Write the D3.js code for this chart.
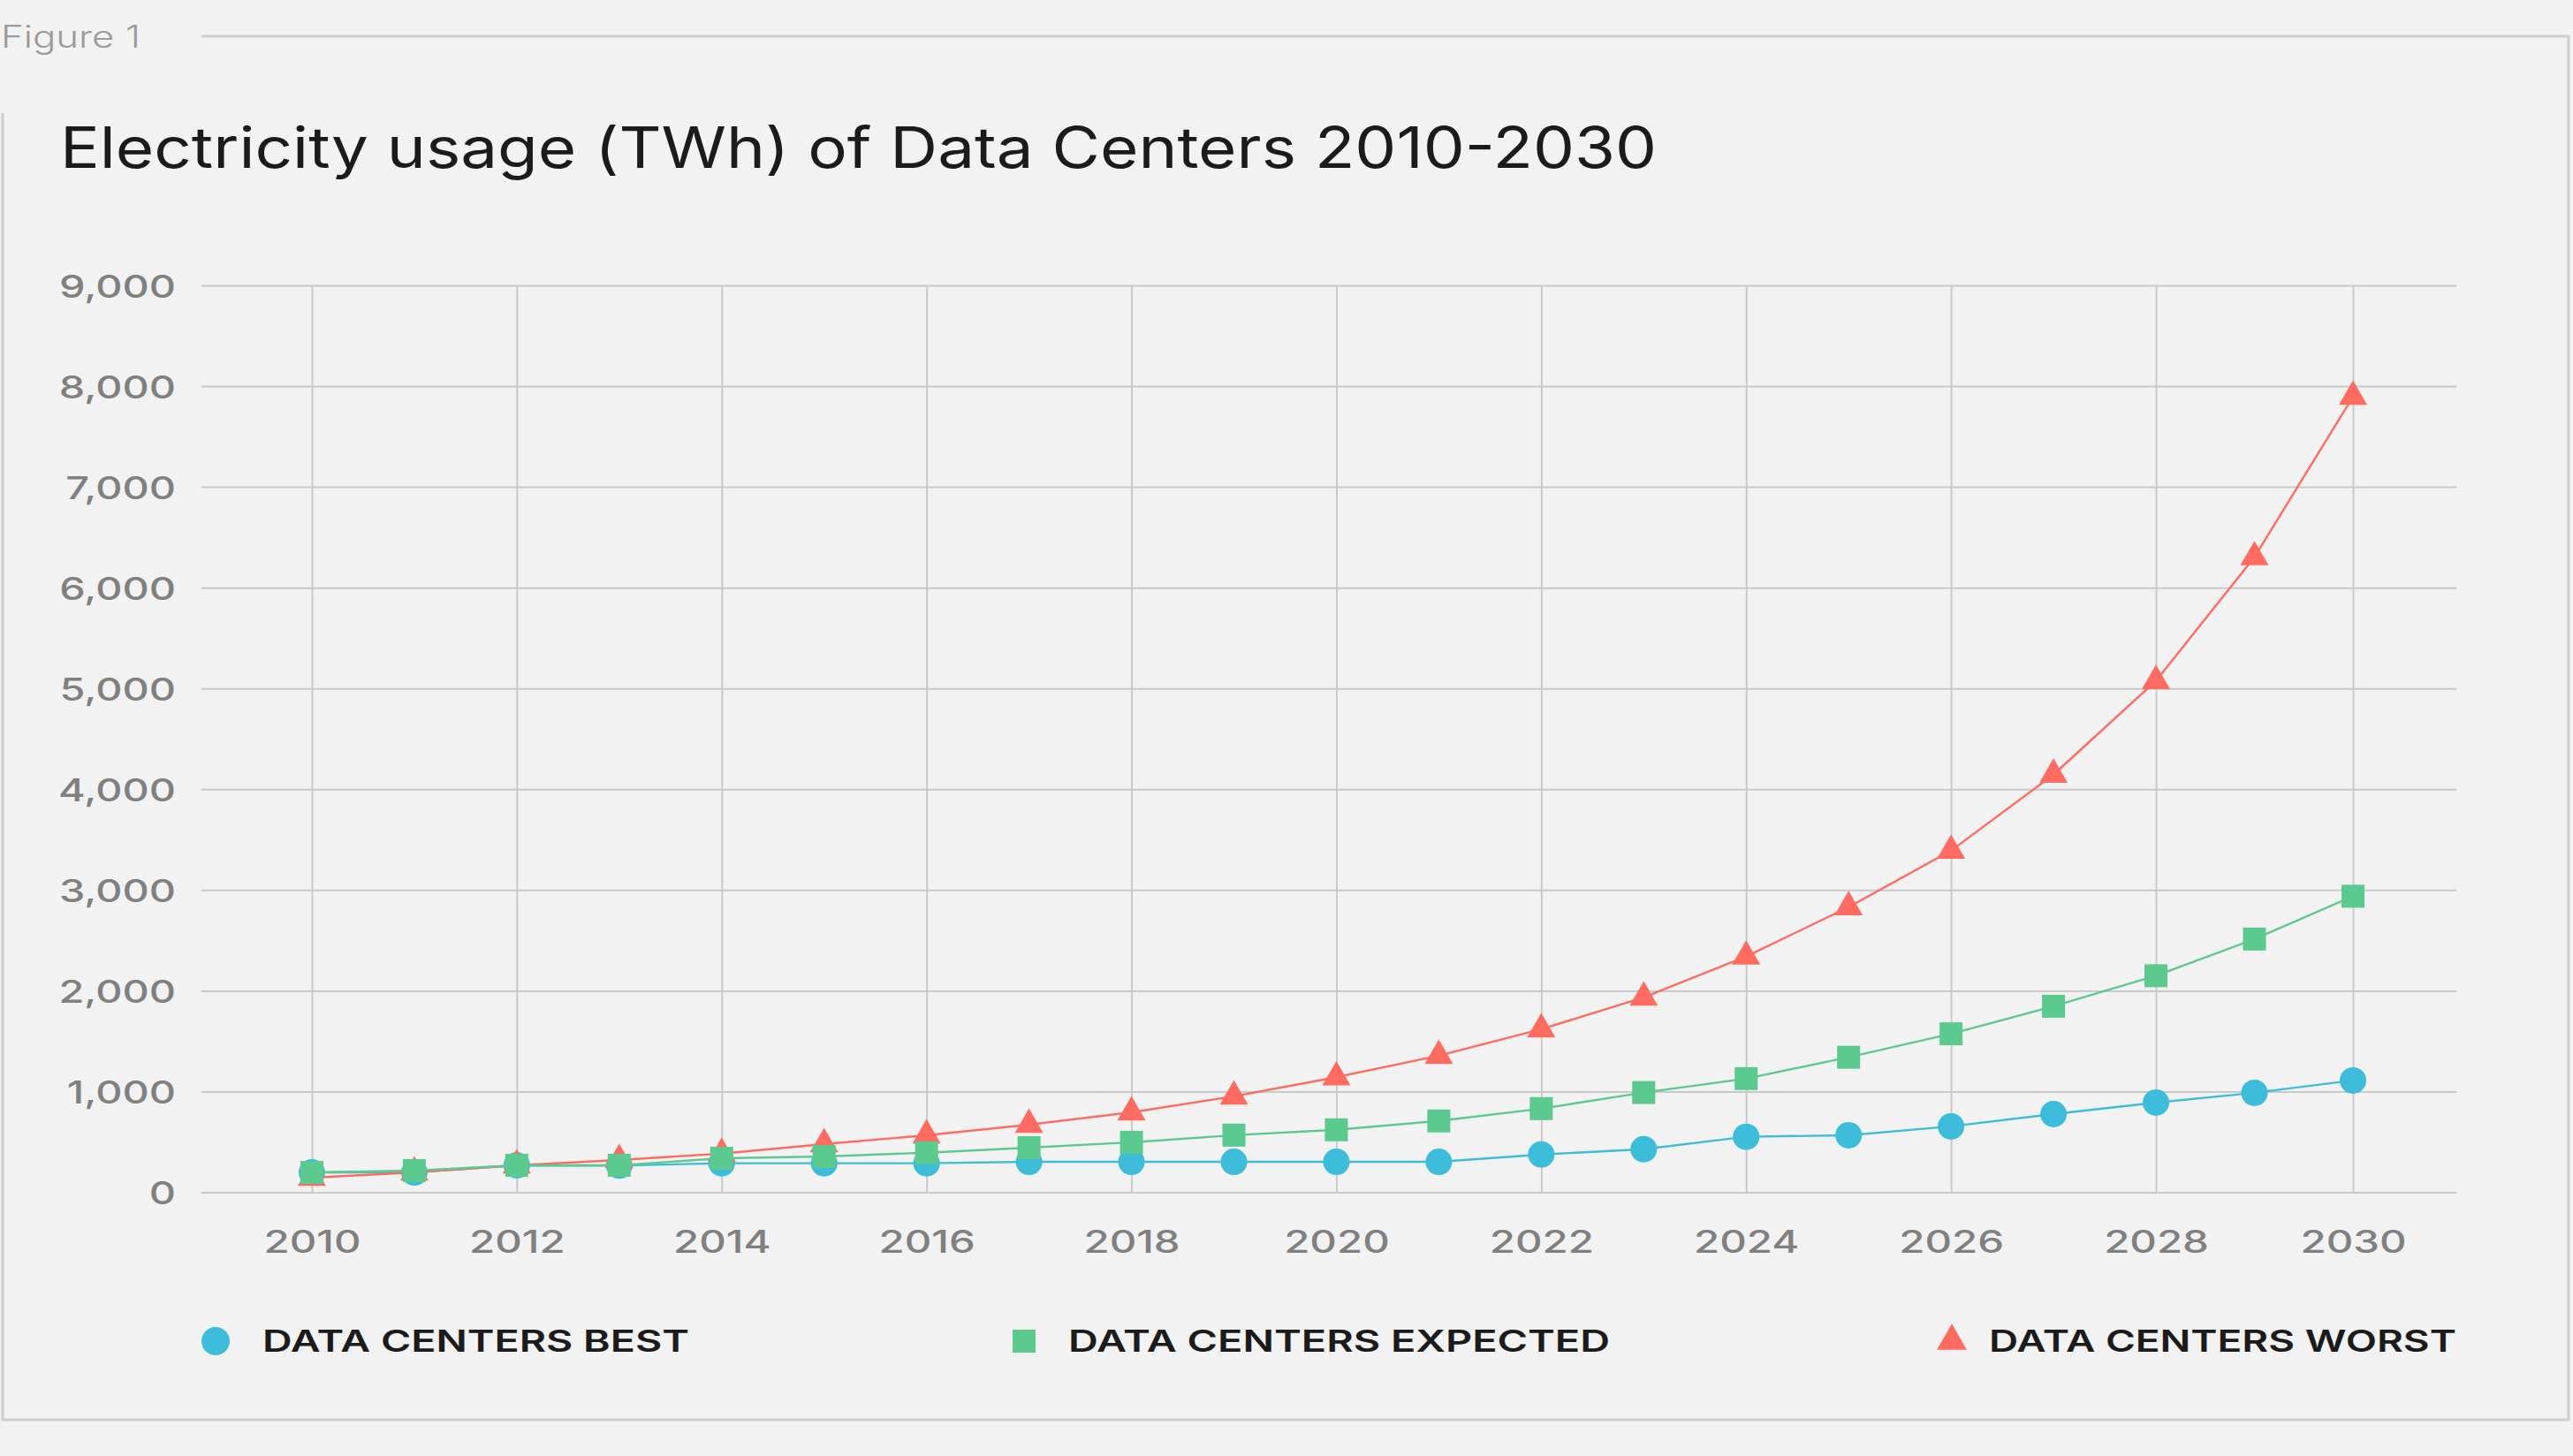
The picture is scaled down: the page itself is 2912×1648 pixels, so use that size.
<!DOCTYPE html>
<html>
<head>
<meta charset="utf-8">
<script src="https://cdn.jsdelivr.net/npm/d3@7"></script>
<style>
  html, body { margin: 0; padding: 0; background: #f2f2f2; }
  svg { display: block; }
</style>
</head>
<body>
<svg id="chart" width="2912" height="1648"></svg>
<script>
// ---- data ----
const years = [2010, 2011, 2012, 2013, 2014, 2015, 2016, 2017, 2018, 2019, 2020,
               2021, 2022, 2023, 2024, 2025, 2026, 2027, 2028, 2029, 2030];
const bestValues = [197, 197, 268, 265, 288, 288, 288, 302, 302, 302, 302,
                    302, 375, 428, 551, 566, 654, 776, 890, 987, 1110];
const expectedValues = [197, 215, 268, 268, 338, 355, 393, 443, 496, 567, 620,
                        708, 830, 990, 1128, 1340, 1573, 1846, 2149, 2513, 2938];
const worstValues = [145, 197, 268, 320, 384, 478, 566, 671, 794, 952, 1142,
                     1355, 1618, 1934, 2340, 2830, 3390, 4145, 5075, 6303, 7895];
const yTicks = [0, 1000, 2000, 3000, 4000, 5000, 6000, 7000, 8000, 9000];
const xTicks = [2010, 2012, 2014, 2016, 2018, 2020, 2022, 2024, 2026, 2028, 2030];
const seriesNames = ["DATA CENTERS BEST", "DATA CENTERS EXPECTED", "DATA CENTERS WORST"];
const titleText = "Electricity usage (TWh) of Data Centers 2010-2030";
const figureLabel = "Figure 1";

// ---- styles ----
const colors = { best: "#3dbdd9", expected: "#5cc98e", worst: "#ff6b60" };
const gridColor = "#c9c9c9";
const svg = d3.select("#chart");

const plotL = 228, plotR = 2780, plotT = 323, plotB = 1349.5;
// the reference's last two years sit slightly closer together
const x = d3.scaleLinear().domain([2010, 2028, 2030]).range([353, 2440, 2663]);
const y = d3.scaleLinear().domain([0, 9000]).range([plotB, plotT]);

// background
svg.append("rect").attr("width", 2912).attr("height", 1648).attr("fill", "#f2f2f2");

// frame
const frame = svg.append("g").attr("stroke", "#cdcdcd").attr("stroke-width", 3).attr("fill", "none");
frame.append("path").attr("d", "M228,41 H2907 V1607 H3 V128");

// figure label
svg.append("text").attr("x", 1).attr("y", 54)
  .attr("font-family", "Inter, 'Noto Sans', sans-serif").attr("font-weight", 300)
  .attr("font-size", 35).attr("fill", "#9b9b9b")
  .attr("textLength", 158).attr("lengthAdjust", "spacingAndGlyphs")
  .text(figureLabel);

// title
svg.append("text").attr("x", 68).attr("y", 190)
  .attr("font-family", "Inter, 'Noto Sans', sans-serif").attr("font-weight", 400)
  .attr("font-size", 64).attr("fill", "#1b1b1b")
  .attr("textLength", 1807).attr("lengthAdjust", "spacingAndGlyphs")
  .text(titleText);

// y axis with gridlines
const yAxis = svg.append("g").attr("transform", `translate(${plotL},0)`)
  .call(d3.axisLeft(y).tickValues(yTicks).tickFormat(d3.format(",")).tickSize(-(plotR - plotL)).tickPadding(29));
yAxis.select(".domain").remove();
yAxis.selectAll(".tick line").attr("stroke", gridColor).attr("stroke-width", 2);
yAxis.selectAll(".tick text")
  .attr("font-family", "Inter, 'Noto Sans', sans-serif").attr("font-weight", 500)
  .attr("font-size", 36).attr("fill", "#808080").attr("dy", 13);

// x axis with vertical gridlines
const xAxis = svg.append("g").attr("transform", `translate(0,${plotB})`)
  .call(d3.axisBottom(x).tickValues(xTicks).tickFormat(d3.format("d")).tickSize(-(plotB - plotT)).tickPadding(0));
xAxis.select(".domain").remove();
xAxis.selectAll(".tick line").attr("stroke", gridColor).attr("stroke-width", 2);
xAxis.selectAll(".tick text")
  .attr("font-family", "Inter, 'Noto Sans', sans-serif").attr("font-weight", 500)
  .attr("font-size", 35).attr("fill", "#808080").attr("y", 68).attr("dy", 0);

// stretch axis labels to the wide lettering of the reference
function stretch(sel, factor) {
  sel.each(function () {
    const w = this.getComputedTextLength();
    d3.select(this).attr("textLength", w * factor).attr("lengthAdjust", "spacingAndGlyphs");
  });
}
(function () {
  const t9 = yAxis.selectAll(".tick text").filter(d => d === 9000).node();
  stretch(yAxis.selectAll(".tick text"), 132 / t9.getComputedTextLength());
  const t10 = xAxis.selectAll(".tick text").filter(d => d === 2010).node();
  stretch(xAxis.selectAll(".tick text"), 110 / t10.getComputedTextLength());
})();

// series
const series = [
  { key: "best", values: bestValues, shape: d3.symbolCircle, size: Math.PI * 15 * 15 },
  { key: "worst", values: worstValues, shape: d3.symbolTriangle, size: 32 * 32 * Math.sqrt(3) / 4 },
  { key: "expected", values: expectedValues, shape: d3.symbolSquare, size: 26 * 26 }
];
const line = d3.line().x((d, i) => x(years[i])).y(d => y(d));

series.forEach(s => {
  const g = svg.append("g");
  g.append("path").attr("d", line(s.values)).attr("fill", "none")
    .attr("stroke", colors[s.key]).attr("stroke-width", 2.4);
  g.selectAll("path.m").data(s.values).enter().append("path").attr("class", "m")
    .attr("transform", (d, i) => `translate(${x(years[i])},${y(d)})`)
    .attr("d", d3.symbol().type(s.shape).size(s.size)())
    .attr("fill", colors[s.key]);
});

// legend
const legend = [
  { name: seriesNames[0], key: "best", shape: d3.symbolCircle, size: Math.PI * 16 * 16, mx: 244, tx: 297, tw: 483 },
  { name: seriesNames[1], key: "expected", shape: d3.symbolSquare, size: 26 * 26, mx: 1159, tx: 1209, tw: 613 },
  { name: seriesNames[2], key: "worst", shape: d3.symbolTriangle, size: 34 * 34 * Math.sqrt(3) / 4, mx: 2209, tx: 2251, tw: 529 }
];
const lg = svg.append("g");
legend.forEach(l => {
  lg.append("path").attr("transform", `translate(${l.mx},1518)`)
    .attr("d", d3.symbol().type(l.shape).size(l.size)()).attr("fill", colors[l.key]);
  lg.append("text").attr("x", l.tx).attr("y", 1530)
    .attr("font-family", "Inter, 'Noto Sans', sans-serif").attr("font-weight", 600)
    .attr("font-size", 34).attr("fill", "#1b1b1b")
    .attr("textLength", l.tw).attr("lengthAdjust", "spacingAndGlyphs")
    .text(l.name);
});
</script>
</body>
</html>
